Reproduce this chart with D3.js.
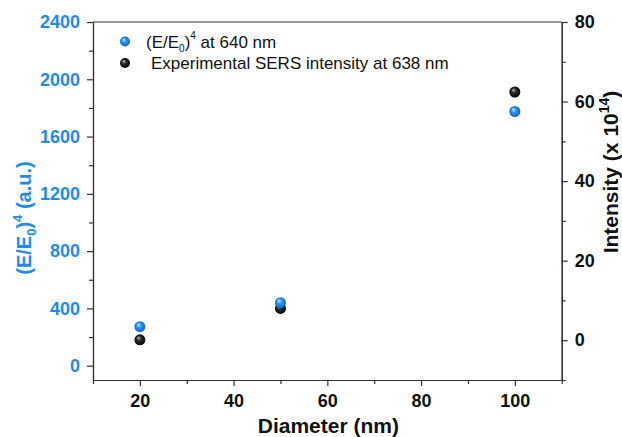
<!DOCTYPE html>
<html>
<head>
<meta charset="utf-8">
<script src="https://cdn.jsdelivr.net/npm/d3@7"></script>
<style>
  body { margin: 0; background: #fff; }
  svg { display: block; font-family: "Liberation Sans", Arial, sans-serif; }
</style>
</head>
<body>
<svg width="622" height="437"></svg>
<script>
// data
var diameters = [20, 50, 100];
var enhancement = [272, 440, 1775];   // (E/E0)^4, left axis
var intensity = [0.1, 8.0, 62.4];     // x 10^14, right axis

var xTicks = [20, 40, 60, 80, 100];
var xMinor = [10, 30, 50, 70, 90, 110];
var leftTicks = [0, 400, 800, 1200, 1600, 2000, 2400];
var leftMinor = [200, 600, 1000, 1400, 1800, 2200];
var rightTicks = [0, 20, 40, 60, 80];
var rightMinor = [-10, 10, 30, 50, 70];

var blue = "#1e8ce8";
var axisCol = "#333";

var svg = d3.select("svg"),
  pLeft = 93, pRight = 561.7, pTop = 22, pBottom = 380;

var x = d3.scaleLinear().domain([10, 110]).range([pLeft, pRight]),
  yL = d3.scaleLinear().domain([-100, 2400]).range([pBottom, pTop]),
  yR = d3.scaleLinear().domain([-10, 80]).range([pBottom, pTop]);

var fmt = d3.format("d");

// gradients for the shaded balls
var defs = svg.append("defs");
function ball(id, c0, c1, c2) {
  var g = defs.append("radialGradient").attr("id", id)
    .attr("cx", "50%").attr("cy", "50%").attr("r", "55%")
    .attr("fx", "35%").attr("fy", "30%");
  g.append("stop").attr("offset", "0%").attr("stop-color", c0);
  g.append("stop").attr("offset", "40%").attr("stop-color", c1);
  g.append("stop").attr("offset", "100%").attr("stop-color", c2);
}
ball("gBlue", "#cfeaff", "#2a93f0", "#0b62c0");
ball("gBlack", "#bdbdbd", "#2a2a2a", "#000");

// frame top line
svg.append("line")
  .attr("x1", pLeft).attr("x2", pRight).attr("y1", pTop).attr("y2", pTop)
  .attr("stroke", axisCol).attr("stroke-width", 1.2);

function styleAxis(g, col) {
  g.select(".domain").attr("stroke", axisCol).attr("stroke-width", 1.2);
  g.selectAll(".tick line").attr("stroke", axisCol).attr("stroke-width", 1.2);
  g.selectAll("text")
    .attr("font-family", "Liberation Sans, Arial, sans-serif")
    .attr("font-size", 18).attr("font-weight", "bold").attr("fill", col);
}

// bottom axis
var gx = svg.append("g").attr("transform", "translate(0," + pBottom + ")")
  .call(d3.axisBottom(x).tickValues(xTicks).tickFormat(fmt).tickSize(6).tickPadding(8).tickSizeOuter(0));
styleAxis(gx, "#111");
var gxm = svg.append("g").attr("transform", "translate(0," + pBottom + ")")
  .call(d3.axisBottom(x).tickValues(xMinor).tickSize(4).tickFormat("").tickSizeOuter(0));
styleAxis(gxm, "#111");

// left axis
var gl = svg.append("g").attr("transform", "translate(" + pLeft + ",0)")
  .call(d3.axisLeft(yL).tickValues(leftTicks).tickFormat(fmt).tickSize(6).tickPadding(7).tickSizeOuter(0));
styleAxis(gl, blue);
var glm = svg.append("g").attr("transform", "translate(" + pLeft + ",0)")
  .call(d3.axisLeft(yL).tickValues(leftMinor).tickSize(4).tickFormat("").tickSizeOuter(0));
styleAxis(glm, blue);

// right axis
var gr = svg.append("g").attr("transform", "translate(" + pRight + ",0)")
  .call(d3.axisRight(yR).tickValues(rightTicks).tickFormat(fmt).tickSize(6).tickPadding(7).tickSizeOuter(0));
styleAxis(gr, "#111");
var grm = svg.append("g").attr("transform", "translate(" + pRight + ",0)")
  .call(d3.axisRight(yR).tickValues(rightMinor).tickSize(4).tickFormat("").tickSizeOuter(0));
styleAxis(grm, "#111");

// axis titles
svg.append("text")
  .attr("x", (pLeft + pRight) / 2 + 1).attr("y", 433)
  .attr("text-anchor", "middle")
  .attr("font-size", 21).attr("font-weight", "bold").attr("fill", "#111")
  .text("Diameter (nm)");

var tl = svg.append("text")
  .attr("transform", "translate(31,218) rotate(-90)")
  .attr("text-anchor", "middle")
  .attr("font-size", 20).attr("font-weight", "bold").attr("fill", blue);
tl.append("tspan").text("(E/E");
tl.append("tspan").attr("font-size", 13).attr("dy", 5).text("0");
tl.append("tspan").attr("dy", -5).text(")");
tl.append("tspan").attr("font-size", 13).attr("dy", -9).text("4");
tl.append("tspan").attr("dy", 9).text(" (a.u.)");

var tr = svg.append("text")
  .attr("transform", "translate(618,172) rotate(-90)")
  .attr("text-anchor", "middle")
  .attr("font-size", 21).attr("font-weight", "bold").attr("fill", "#111");
tr.append("tspan").text("Intensity (x 10");
tr.append("tspan").attr("font-size", 14).attr("dy", -9).text("14");
tr.append("tspan").attr("dy", 9).text(")");

// points: black first, blue on top
svg.append("g").selectAll("circle")
  .data(diameters)
  .join("circle")
  .attr("cx", function(d) { return x(d); })
  .attr("cy", function(d, i) { return yR(intensity[i]); })
  .attr("r", 5.5)
  .attr("fill", "url(#gBlack)");

svg.append("g").selectAll("circle")
  .data(diameters)
  .join("circle")
  .attr("cx", function(d) { return x(d); })
  .attr("cy", function(d, i) { return yL(enhancement[i]); })
  .attr("r", 5.5)
  .attr("fill", "url(#gBlue)");

// legend
var leg = svg.append("g").attr("font-size", 17).attr("fill", "#111");
leg.append("circle").attr("cx", 125).attr("cy", 41.5).attr("r", 5).attr("fill", "url(#gBlue)");
leg.append("circle").attr("cx", 125).attr("cy", 63).attr("r", 5).attr("fill", "url(#gBlack)");
var l1 = leg.append("text").attr("x", 146).attr("y", 47.5);
l1.append("tspan").text("(E/E");
l1.append("tspan").attr("font-size", 10).attr("dy", 4).text("0");
l1.append("tspan").attr("dy", -4).text(")");
l1.append("tspan").attr("font-size", 10).attr("dy", -9).text("4");
l1.append("tspan").attr("dy", 9).text(" at 640 nm");
leg.append("text").attr("x", 151).attr("y", 69).text("Experimental SERS intensity at 638 nm");
</script>
</body>
</html>
